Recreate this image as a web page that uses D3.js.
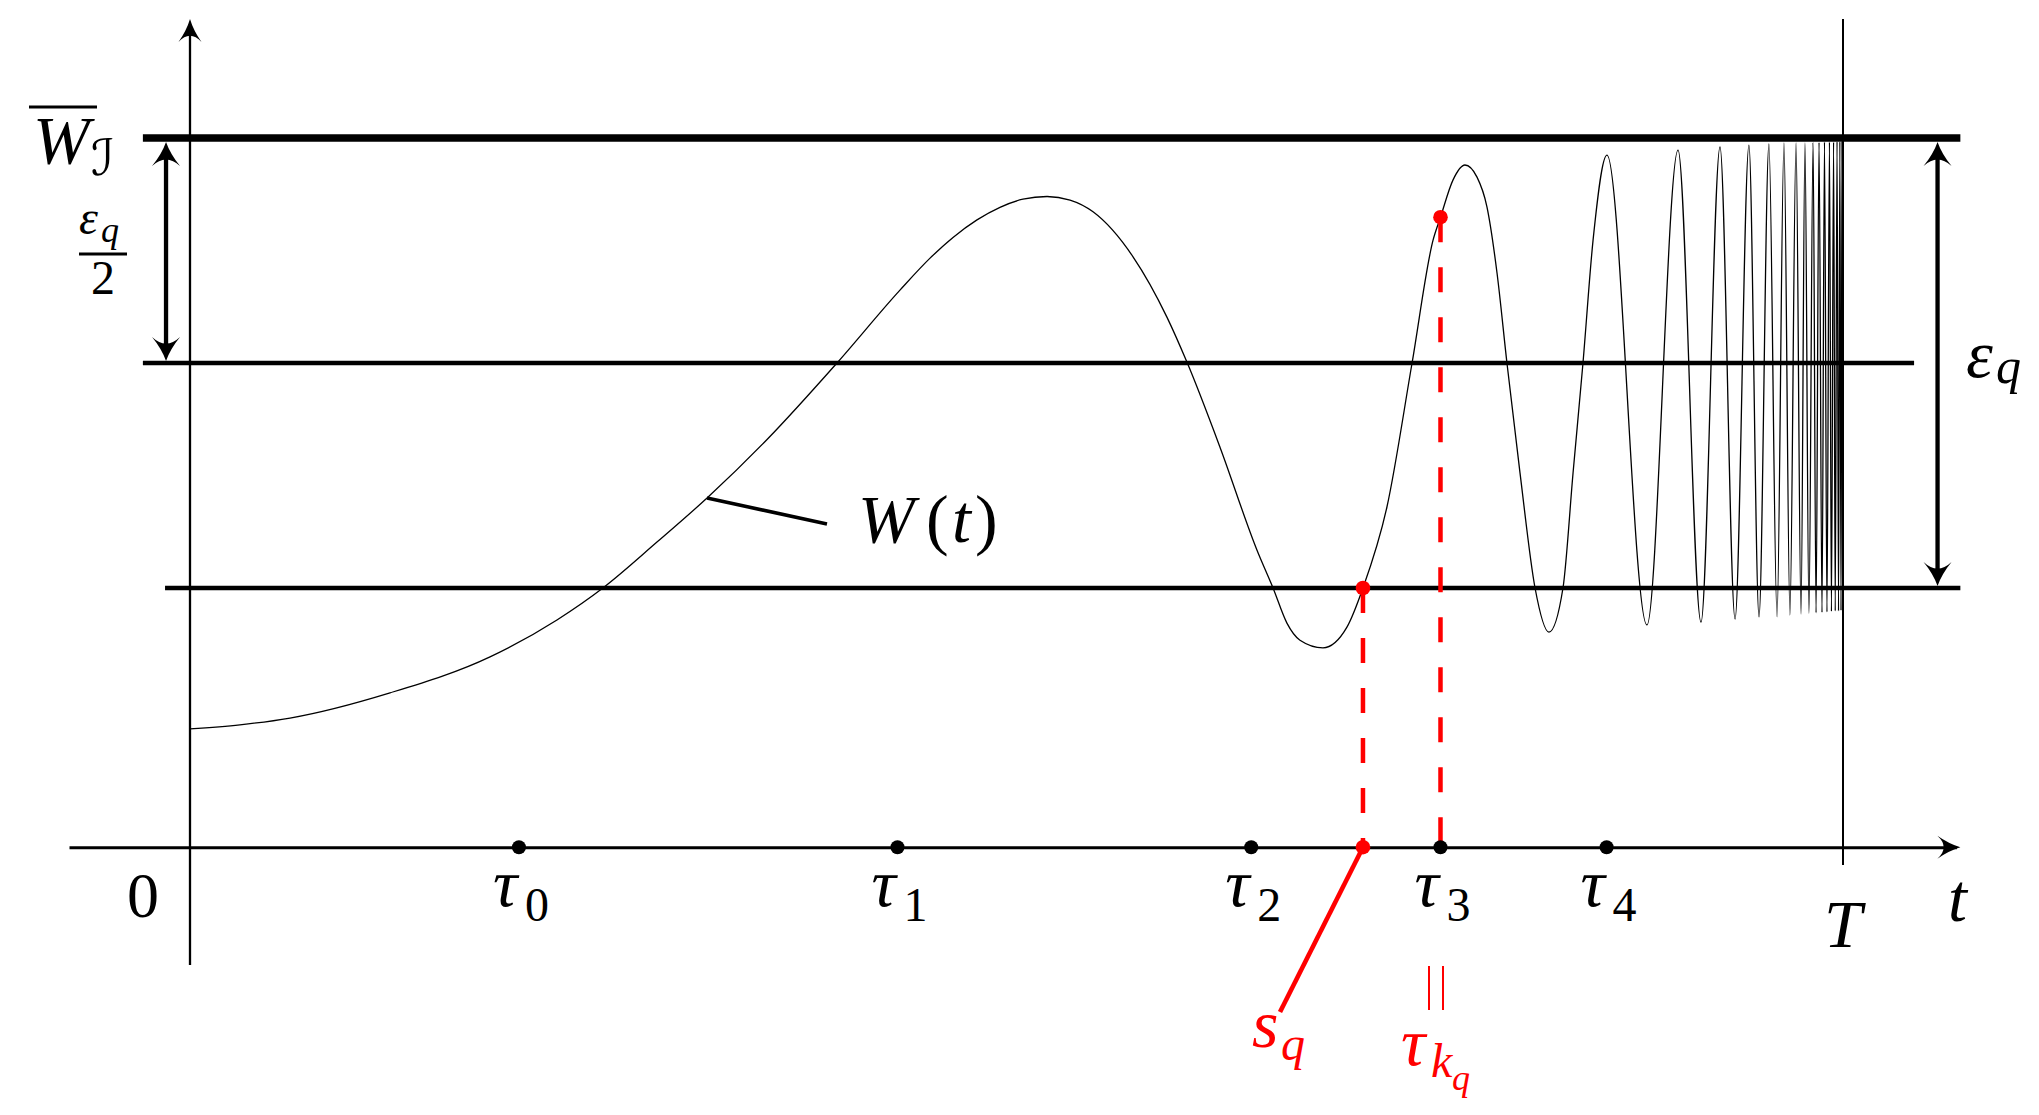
<!DOCTYPE html>
<html><head><meta charset="utf-8">
<script src="https://cdn.jsdelivr.net/npm/d3@7"></script>
<style>html,body{margin:0;padding:0;background:#fff;} svg{display:block}
text{font-family:"Liberation Serif","DejaVu Serif","Noto Serif",serif;}</style>
</head><body>
<svg id="chart" width="2039" height="1115"></svg>
<script>
// ---------------- data ----------------
// time runs from 0 to T (= 100); W is expressed so that the lower level = 0 and W̄_I = 100
const levelNames  = ["Wbar", "Wbar - eps/2", "Wbar - eps"];
const levelValues = [100, 50, 0];
const tickSubs  = ["0", "1", "2", "3", "4"];
const tickTimes = [19.9, 42.8, 64.2, 75.65, 85.7];
const sqTime    = 70.96;     // s_q
const tauKqTime = 75.65;     // τ_{k_q} = τ_3
const tauKqW    = 82.4;      // W(τ_{k_q})
// W(t)
const curveT = [0, 3.02, 6.05, 12.10, 18.15, 22.20, 24.98, 28.25, 31.28, 34.91, 39.14, 42.95, 44.77, 46.16,
  47.61, 49.00, 50.39, 51.85, 53.24, 54.63, 57.05, 59.10, 60.31, 62.31, 64.55, 65.52, 66.36, 67.15, 68.54,
  69.99, 70.96, 72.41, 73.93,
  75.20, 75.65, 76.41, 77.13, 77.86, 78.46, 79.07, 79.67, 80.46, 81.37, 82.21, 83.06, 83.67, 84.27, 84.88,
  85.72, 88.14, 90.02, 91.41, 92.56, 93.47, 94.31, 94.92, 95.52, 96.01, 96.43, 96.79, 97.16, 97.46, 97.70,
  97.94, 98.19, 98.37, 98.55, 98.73, 98.88, 99.03, 99.18, 99.30, 99.43, 99.53, 99.64, 99.73, 99.81, 99.88,
  99.94, 100];
const curveW = [-31.3, -30.4, -28.9, -23.3, -15.3, -7.1, 0, 10.2, 20.0, 33.0, 50.0, 66.2, 73.3, 77.9,
  81.8, 84.6, 86.4, 87.0, 86.2, 83.6, 73.6, 60.2, 50.2, 31.3, 8.4, 0, -7.8, -11.6, -13.3,
  -8.7, 0, 18.0, 50.0,
  77.3, 82.4, 90.7, 94.0, 91.3, 84.7, 70.0, 50.0, 25.6, 0, -9.8, 0, 25.6, 50, 77.3,
  96.2, -8.2, 97.3, -7.6, 98.0, -6.9, 98.4, -6.4, 98.7, -6.4, 98.9, -6.0, 98.9, -5.8, 98.9,
  -5.6, 99.0, -5.5, 99.0, -5.4, 99.1, -5.3, 99.1, -5.2, 99.1, -5.1, 99.2, -5.1, 99.2, -5.0,
  99.2, -5.0];

// ---------------- layout ----------------
const svg = d3.select("#chart");
const x = d3.scaleLinear().domain([0, 100]).range([190, 1843]);
const y = d3.scaleLinear().domain([0, 100]).range([588, 138]);
const RED = "#ff0000";
const MATH = '"Liberation Serif","DejaVu Serif","Noto Serif",serif';
const axisW = -57.6;               // W level of the time axis
const axisY = y(axisW);

function arrowHead(g, tx, ty, angle, len, half, color) {
  const p = `M0,0 Q${-len*0.5},${half*0.3} ${-len},${half} Q${-len*0.45},0 ${-len},${-half} Q${-len*0.5},${-half*0.3} 0,0 Z`;
  g.append("path").attr("d", p).attr("fill", color)
    .attr("transform", `translate(${tx},${ty}) rotate(${angle})`);
}
function line(g, x1, y1, x2, y2, w, color, dash) {
  const l = g.append("line").attr("x1", x1).attr("y1", y1).attr("x2", x2).attr("y2", y2)
    .attr("stroke", color || "#000").attr("stroke-width", w);
  if (dash) l.attr("stroke-dasharray", dash);
  return l;
}
function txt(g, xx, yy, s, size, italic, color, anchor) {
  return g.append("text").attr("x", xx).attr("y", yy).text(s)
    .style("font-family", MATH).attr("font-size", size)
    .attr("font-style", italic ? "italic" : "normal")
    .attr("fill", color || "#000").attr("text-anchor", anchor || "start");
}

const g = svg.append("g");

// y-axis
line(g, x(0), 965, x(0), 24, 2.3);
arrowHead(g, x(0), 19, -90, 23, 11.5, "#000");
// vertical line at T
line(g, x(100), 19, x(100), 865, 2);

// time axis via d3 axis
const xAxisScale = x.copy().domain([-7.32, 107.1]).range([x(-7.32), x(107.1) - 4]);
const axG = g.append("g").attr("transform", `translate(0,${axisY})`)
  .call(d3.axisBottom(xAxisScale).tickValues([]).tickSizeOuter(0));
axG.select(".domain").attr("stroke", "#000").attr("stroke-width", 3);
arrowHead(g, x(107.1), axisY, 0, 23, 11.5, "#000");

// level lines
line(g, x(-2.85), y(levelValues[0]), x(107.1), y(levelValues[0]), 7.5);
line(g, x(-2.85), y(levelValues[1]), x(104.3), y(levelValues[1]), 4.3);
line(g, x(-1.51), y(levelValues[2]), x(107.1), y(levelValues[2]), 4.3);

// double arrows
function doubleArrow(xx, v1, v2) {
  const yTop = y(v1) + 4, yBot = y(v2) - 2;
  line(g, xx, yTop + 12, xx, yBot - 12, 4.3);
  arrowHead(g, xx, yTop, -90, 24, 14, "#000");
  arrowHead(g, xx, yBot, 90, 24, 14, "#000");
}
doubleArrow(x(-1.45), levelValues[0], levelValues[1]);
doubleArrow(x(105.72), levelValues[0], levelValues[2]);

// W(t) curve
const pts = curveT.map((t, i) => [t, curveW[i]]);
g.append("path").datum(pts)
  .attr("d", d3.line().x(d => x(d[0])).y(d => y(d[1])).curve(d3.curveMonotoneX))
  .attr("fill", "none").attr("stroke", "#000").attr("stroke-width", 1.3);

// leader for W(t)
line(g, x(curveT[8]), y(curveW[8]), 827, 524, 3.6);
const wt = g.append("text").attr("y", 542).style("font-family", MATH).attr("font-size", 68);
wt.append("tspan").attr("x", 858).attr("font-style", "italic").text("W");
wt.append("tspan").attr("x", 926).text("(");
wt.append("tspan").attr("x", 952).attr("font-style", "italic").text("t");
wt.append("tspan").attr("x", 975).text(")");

// red construction
line(g, x(sqTime), y(0), x(sqTime), axisY, 4.5, RED, "25 25");
line(g, x(tauKqTime), y(tauKqW), x(tauKqTime), axisY, 4.5, RED, "25 25");
line(g, x(sqTime), axisY, 1280, 1012, 4.6, RED);
g.append("circle").attr("cx", x(sqTime)).attr("cy", y(0)).attr("r", 7.3).attr("fill", RED);
g.append("circle").attr("cx", x(tauKqTime)).attr("cy", y(tauKqW)).attr("r", 7.3).attr("fill", RED);

// tick dots & labels
tickTimes.forEach((t, i) => {
  g.append("circle").attr("cx", x(t)).attr("cy", axisY).attr("r", 7).attr("fill", "#000");
  txt(g, x(t) - 26, 906, "τ", 68, true);
  txt(g, x(t) + 6, 921, tickSubs[i], 48, false);
});
g.append("circle").attr("cx", x(sqTime)).attr("cy", axisY).attr("r", 7.3).attr("fill", RED);

txt(g, 143, 917, "0", 64, false, "#000", "middle");
txt(g, x(100), 947, "T", 68, true, "#000", "middle");
txt(g, 1948, 921, "t", 68, true);

// s_q and τ_{k_q}
txt(g, 1252, 1047, "s", 68, true, RED);
txt(g, 1281, 1060, "q", 48, true, RED);
line(g, 1429, 966, 1429, 1010, 2, RED);
line(g, 1443, 966, 1443, 1010, 2, RED);
txt(g, 1401, 1065, "τ", 68, true, RED);
txt(g, 1431, 1077, "k", 48, true, RED);
txt(g, 1452, 1090, "q", 36, true, RED);

// W̄_I label
line(g, 29, 107, 97, 107, 3);
txt(g, 33, 163, "W", 68, true);
g.append("text").attr("x", 91).attr("y", 175).text("ℐ")
  .style("font-family", '"DejaVu Serif","DejaVu Sans",serif').attr("font-size", 50)
  .attr("font-style", "italic");

// ε_q / 2
txt(g, 79, 234, "ε", 48, true);
txt(g, 101, 242, "q", 36, true);
line(g, 79, 254, 127, 254, 3);
txt(g, 103, 294, "2", 48, false, "#000", "middle");

// right ε_q
txt(g, 1966, 377, "ε", 68, true);
txt(g, 1996, 383, "q", 50, true);
</script>
</body></html>
